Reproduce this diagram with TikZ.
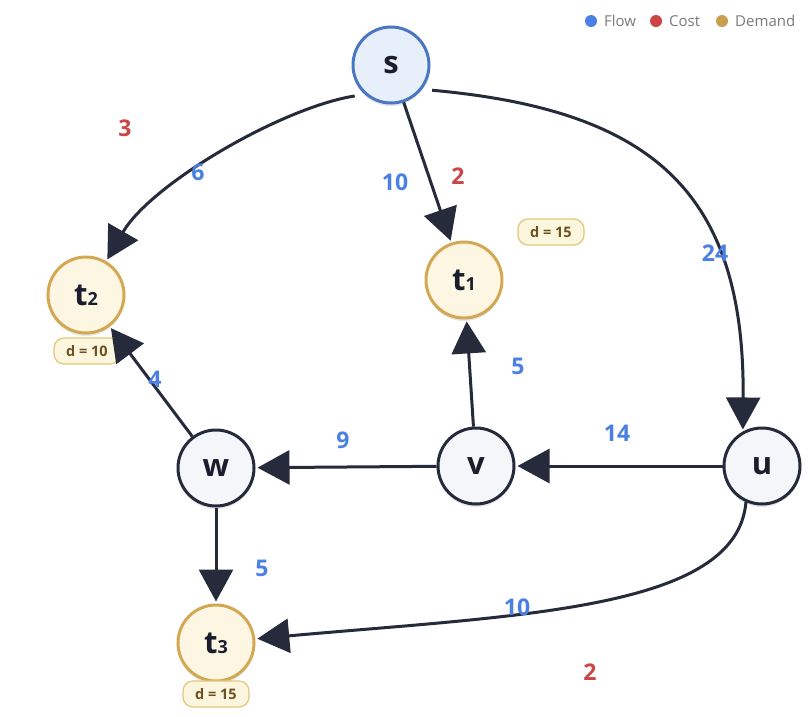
\documentclass[tikz,border=0pt]{standalone}
\usepackage{fontspec}
\setmainfont{Open Sans}
\usetikzlibrary{arrows.meta,shadows}
\definecolor{edgec}{HTML}{262B3B}
\definecolor{nodetext}{HTML}{1A1D2B}
\definecolor{sblue}{HTML}{4A76C2}
\definecolor{sfill}{HTML}{E7EFFB}
\definecolor{tgold}{HTML}{D4A852}
\definecolor{tfill}{HTML}{FDF6E2}
\definecolor{mfill}{HTML}{F4F6F9}
\definecolor{taggold}{HTML}{E2C77C}
\definecolor{tagfill}{HTML}{FDF6DE}
\definecolor{tagtext}{HTML}{6B5220}
\definecolor{flowblue}{HTML}{4A80E4}
\definecolor{costred}{HTML}{CC4444}
\definecolor{leggray}{HTML}{7A7A7A}
\definecolor{leggold}{HTML}{C9A050}
\begin{document}
\begin{tikzpicture}[x=1pt,y=-1pt,
  edge/.style={draw=edgec, line width=3pt, -{Triangle[length=32pt,width=34pt]}, shorten >=2pt},
  nd/.style={circle, minimum size=76pt, inner sep=0pt, line width=3pt, font=\fontsize{31}{31}\selectfont\bfseries, text=nodetext,
    drop shadow={shadow xshift=0pt, shadow yshift=-3pt, opacity=0.10, fill=black}},
  src/.style={nd, draw=sblue, fill=sfill},
  dem/.style={nd, draw=tgold, fill=tfill},
  mid/.style={nd, draw=edgec, fill=mfill},
  tag/.style={draw=taggold, fill=tagfill, rounded corners=10pt, line width=1.2pt, minimum width=66pt, minimum height=26pt, inner sep=0pt, font=\fontsize{14.5}{14.5}\selectfont\bfseries, text=tagtext},
  flow/.style={font=\fontsize{23}{23}\selectfont\bfseries, text=flowblue},
  cost/.style={font=\fontsize{23}{23}\selectfont\bfseries, text=costred},
  legtext/.style={font=\fontsize{15}{15}\selectfont, text=leggray, anchor=west, inner sep=0pt},
  legdot/.style={circle, minimum size=12pt, inner sep=0pt}
]
\useasboundingbox[fill=white] (0,0) rectangle (812,716);
\newcommand{\tsub}[1]{t{\fontsize{18}{18}\selectfont #1}}

% nodes
\node[src] (s) at (391,65) {s};
\node[dem] (t2) at (86,295) {\tsub{2}};
\node[dem] (t1) at (464,280) {\tsub{1}};
\node[mid] (w) at (216,468) {w};
\node[mid] (v) at (476,466) {v};
\node[mid] (u) at (762,466) {u};
\node[dem] (t3) at (216,643) {\tsub{3}};

% demand tags
\node[tag] (d2) at (87,351) {d = 10};
\node[tag] (d1) at (551,232) {d = 15};
\node[tag] (d3) at (216,694) {d = 15};

% edges
\draw[edge, shorten <=10pt] (s.228) .. controls (280,108) and (150,185) .. (t2.59);
\draw[edge] (s) -- (t1);
\draw[edge, shorten <=10pt] (s.322) .. controls (650,110) and (745,190) .. (u.119);
\draw[edge] (v) -- (t1);
\draw[edge] (w) -- (t2);
\draw[edge] (v) -- (w);
\draw[edge] (u) -- (v);
\draw[edge] (w) -- (t3);
\draw[edge] (u.246) .. controls (737,610) and (520,615) .. (t3.6);

% labels
\node[cost] (c1) at (125,128) {3};
\node[flow] (f1) at (198,172) {6};
\node[flow] (f2) at (395,182) {10};
\node[cost] (c2) at (458,176) {2};
\node[flow] (f3) at (715,253) {24};
\node[flow] (f4) at (518,366) {5};
\node[flow] (f5) at (155,379) {4};
\node[flow] (f6) at (343,440) {9};
\node[flow] (f7) at (617,433) {14};
\node[flow] (f8) at (262,568) {5};
\node[flow] (f9) at (517,607) {10};
\node[cost] (c3) at (590,672) {2};

% legend
\node[legdot, fill=flowblue] (lg1) at (591,21) {};
\node[legtext] (lt1) at (604,21) {Flow};
\node[legdot, fill=costred] (lg2) at (656,21) {};
\node[legtext] (lt2) at (669,21) {Cost};
\node[legdot, fill=leggold] (lg3) at (722,21) {};
\node[legtext] (lt3) at (735,21) {Demand};
\end{tikzpicture}
\end{document}
